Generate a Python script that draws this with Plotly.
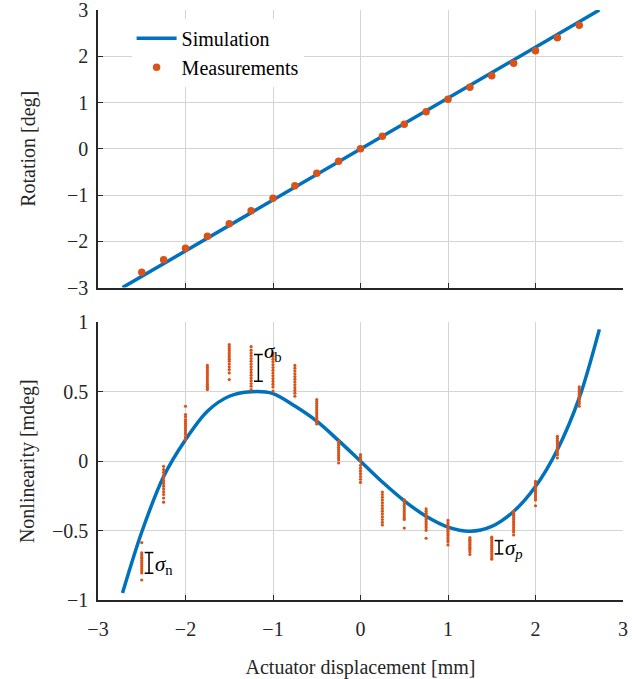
import plotly.graph_objects as go
from plotly.subplots import make_subplots

# ---------------- data ----------------
# Top panel: rotation vs displacement
sim_rot_x = [-2.72, 2.73]
sim_rot_y = [-3.0, 3.0]
meas_x = [-2.5, -2.25, -2.0, -1.75, -1.5, -1.25, -1.0, -0.75, -0.5, -0.25, 0.0,
          0.25, 0.5, 0.75, 1.0, 1.25, 1.5, 1.75, 2.0, 2.25, 2.5]
meas_rot = [-2.67, -2.40, -2.15, -1.89, -1.62, -1.34, -1.07, -0.80, -0.53, -0.27, 0.0,
            0.27, 0.53, 0.80, 1.07, 1.33, 1.58, 1.85, 2.12, 2.40, 2.67]

# Bottom panel: nonlinearity
sim_nl_x = [-2.72, -2.5, -2.25, -2.0, -1.75, -1.5, -1.25, -1.0, -0.75, -0.5, -0.25, 0.0,
            0.25, 0.5, 0.75, 1.0, 1.25, 1.5, 1.75, 2.0, 2.25, 2.5, 2.73]
sim_nl_y = [-0.95, -0.51, -0.11, 0.155, 0.36, 0.468, 0.50, 0.487, 0.397, 0.288, 0.148, 0.0,
            -0.15, -0.285, -0.397, -0.475, -0.505, -0.47, -0.362, -0.182, 0.083, 0.456, 0.95]

nl_meas = [
    [-0.586, -0.66, -0.675, -0.69, -0.70, -0.715, -0.73, -0.745, -0.76, -0.775, -0.79, -0.805, -0.856],
    [-0.037, -0.06, -0.08, -0.10, -0.12, -0.14, -0.16, -0.18, -0.20, -0.22, -0.24, -0.265, -0.295],
    [0.396, 0.336, 0.32, 0.30, 0.285, 0.27, 0.255, 0.24, 0.225, 0.21, 0.195, 0.175, 0.155],
    [0.69, 0.675, 0.66, 0.645, 0.63, 0.615, 0.60, 0.585, 0.57, 0.555, 0.54, 0.528, 0.516],
    [0.841, 0.825, 0.81, 0.795, 0.78, 0.765, 0.75, 0.735, 0.72, 0.70, 0.68, 0.66, 0.636, 0.588],
    [0.825, 0.80, 0.78, 0.76, 0.74, 0.72, 0.70, 0.68, 0.66, 0.64, 0.62, 0.60, 0.58, 0.56, 0.54, 0.516],
    [0.775, 0.755, 0.735, 0.715, 0.695, 0.675, 0.655, 0.635, 0.615, 0.595, 0.575, 0.555, 0.535, 0.505],
    [0.69, 0.67, 0.65, 0.63, 0.61, 0.59, 0.57, 0.55, 0.53, 0.51, 0.49, 0.468],
    [0.444, 0.43, 0.415, 0.40, 0.385, 0.37, 0.355, 0.34, 0.325, 0.31, 0.295, 0.28, 0.268],
    [0.143, 0.13, 0.115, 0.10, 0.085, 0.07, 0.055, 0.04, 0.025, 0.01, -0.013],
    [0.047, 0.03, 0.015, 0.0, -0.03, -0.05, -0.07, -0.09, -0.11, -0.13, -0.153],
    [-0.222, -0.24, -0.26, -0.28, -0.30, -0.32, -0.34, -0.36, -0.38, -0.40, -0.42, -0.44, -0.459],
    [-0.278, -0.29, -0.305, -0.32, -0.335, -0.35, -0.365, -0.38, -0.395, -0.41, -0.42, -0.482],
    [-0.343, -0.36, -0.375, -0.39, -0.405, -0.42, -0.435, -0.45, -0.465, -0.48, -0.498, -0.555],
    [-0.427, -0.445, -0.46, -0.475, -0.49, -0.505, -0.52, -0.535, -0.55, -0.565, -0.58, -0.603],
    [-0.55, -0.56, -0.57, -0.58, -0.59, -0.60, -0.61, -0.62, -0.63, -0.64, -0.655, -0.672],
    [-0.547, -0.56, -0.575, -0.59, -0.605, -0.62, -0.635, -0.65, -0.665, -0.68, -0.695, -0.706],
    [-0.362, -0.375, -0.39, -0.405, -0.42, -0.435, -0.45, -0.465, -0.48, -0.495, -0.51, -0.531],
    [-0.146, -0.16, -0.175, -0.19, -0.205, -0.22, -0.235, -0.25, -0.265, -0.28, -0.321],
    [0.179, 0.165, 0.15, 0.135, 0.12, 0.105, 0.09, 0.075, 0.06, 0.045, 0.023],
    [0.536, 0.52, 0.505, 0.49, 0.475, 0.46, 0.445, 0.43, 0.415, 0.396],
]

# sigma markers: (x, y_low, y_high, label, label_y)
sigma_marks = [
    (-1.167, 0.576, 0.769, "<i>σ</i><sub>b</sub>", 0.79),
    (-2.417, -0.807, -0.658, "<i>σ</i><sub>n</sub>", -0.75),
    (1.583, -0.668, -0.572, "<i>σ</i><sub><i>p</i></sub>", -0.63),
]

x_ticks = [-3, -2, -1, 0, 1, 2, 3]
rot_ticks = [-3, -2, -1, 0, 1, 2, 3]
nl_ticks = [-1, -0.5, 0, 0.5, 1]

# ---------------- styling ----------------
BLUE = "#0072BD"
ORANGE = "#D95319"
FONT = "Liberation Serif"
FS = 20
GRID = "#d4d4d4"
AX = "#262626"

fig = make_subplots(rows=2, cols=1, vertical_spacing=0.059)

fig.add_trace(go.Scatter(x=sim_rot_x, y=sim_rot_y, mode="lines", name="Simulation",
                         line=dict(color=BLUE, width=3.5)), row=1, col=1)
fig.add_trace(go.Scatter(x=meas_x, y=meas_rot, mode="markers", name="Measurements",
                         marker=dict(color=ORANGE, size=7.5)), row=1, col=1)

fig.add_trace(go.Scatter(x=sim_nl_x, y=sim_nl_y, mode="lines", showlegend=False,
                         line=dict(color=BLUE, width=3.5, shape="spline", smoothing=0.9)),
              row=2, col=1)
flat_x, flat_y = [], []
for xv, ys in zip(meas_x, nl_meas):
    for yv in ys:
        flat_x.append(xv)
        flat_y.append(yv)
fig.add_trace(go.Scatter(x=flat_x, y=flat_y, mode="markers", showlegend=False,
                         marker=dict(color=ORANGE, size=3.2)), row=2, col=1)

cap = 0.05
for (sx, lo, hi, lab, ly) in sigma_marks:
    for (x0, y0, x1, y1) in [(sx, lo, sx, hi), (sx - cap, lo, sx + cap, lo), (sx - cap, hi, sx + cap, hi)]:
        fig.add_shape(type="line", x0=x0, y0=y0, x1=x1, y1=y1, xref="x2", yref="y2",
                      line=dict(color="black", width=1.5))
    fig.add_annotation(x=sx + 0.04, y=ly, xref="x2", yref="y2", text=lab, showarrow=False,
                       xanchor="left", yanchor="middle",
                       font=dict(family=FONT, size=21, color="black"))

axis_common = dict(range=[-3, 3], tickvals=x_ticks, showgrid=True, gridcolor=GRID, gridwidth=1,
                   showline=True, linecolor=AX, linewidth=1.5, ticks="inside", ticklen=5,
                   tickcolor=AX, tickwidth=1.2, zeroline=False, mirror=False, automargin=False,
                   ticklabelstandoff=10, ticklabeloverflow="allow",
                   tickfont=dict(family=FONT, size=FS, color="#262626"))
fig.update_xaxes(**axis_common)
fig.update_xaxes(showticklabels=False, row=1, col=1)
fig.update_xaxes(title=dict(text="Actuator displacement [mm]", standoff=22,
                            font=dict(family=FONT, size=FS, color="#262626")), row=2, col=1)

yax = dict(showgrid=True, gridcolor=GRID, gridwidth=1, showline=True, linecolor=AX, linewidth=1.5,
           ticks="inside", ticklen=5, tickcolor=AX, tickwidth=1.2, zeroline=False, automargin=False,
           ticklabeloverflow="allow",
           tickfont=dict(family=FONT, size=FS, color="#262626"), ticklabelstandoff=4)
fig.update_yaxes(**yax)
fig.update_yaxes(range=[-3, 3], tickvals=rot_ticks,
                 title=dict(text="Rotation [deg]", standoff=26,
                            font=dict(family=FONT, size=FS, color="#262626")), row=1, col=1)
fig.update_yaxes(range=[-1, 1], tickvals=nl_ticks, ticktext=["−1", "−0.5", "0", "0.5", "1"],
                 title=dict(text="Nonlinearity [mdeg]", standoff=12,
                            font=dict(family=FONT, size=FS, color="#262626")), row=2, col=1)

fig.update_layout(
    width=632, height=679,
    margin=dict(l=98, r=9, t=10, b=79),
    paper_bgcolor="white", plot_bgcolor="white",
    font=dict(family=FONT, size=FS, color="#262626"),
    showlegend=True,
    legend=dict(x=0.064, y=0.985, xanchor="left", yanchor="top", bgcolor="white",
                borderwidth=0, font=dict(family=FONT, size=FS, color="black"),
                itemwidth=40, tracegroupgap=0),
)

fig.write_html("out.html")
